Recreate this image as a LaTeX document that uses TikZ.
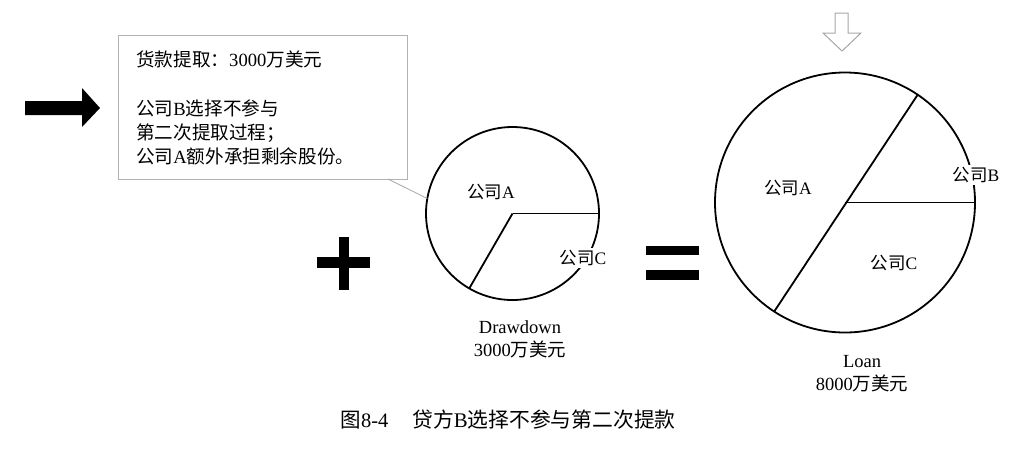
\documentclass[tikz,border=0pt]{standalone}
\usepackage{fontspec}
\setmainfont{Liberation Serif}
\newfontfamily\cjk{Noto Sans CJK SC}
\usepackage{tikz}
\usetikzlibrary{positioning}
\newcommand{\gs}{{\cjk 公司}}
\newcommand{\wmy}{{\cjk 万美元}}

\begin{document}
\begin{tikzpicture}[x=1pt,y=-1pt,
        pie/.style={circle,draw,line width=1.8pt,inner sep=0,outer sep=0},
        slice/.style={line width=1.8pt},
        lbl/.style={font=\fontsize{17.5}{21}\selectfont,inner sep=2pt},
        cut/.style={lbl,fill=white},
        bar/.style={fill=black}]
            \useasboundingbox (0,0) rectangle (1030,448);
            % arrows and signs
            \fill (25,101) -- (82,101) -- (82,88) -- (100,108) -- (82,127) -- (82,115) -- (25,115) -- cycle;
            \draw[gray!70,line width=1pt] (835,13) -- (848,13) -- (848,33) -- (861,33) -- (842,51) -- (823,33) -- (835,33) -- cycle;
            \fill[bar] (339,237) rectangle (349,290);
            \fill[bar] (317,257) rectangle (370,268);
            \fill[bar] (646,246) rectangle (699,255);
            \fill[bar] (646,270) rectangle (699,280);
            % note box
            \node[draw=gray!60,line width=1pt,minimum width=289pt,minimum height=144pt,inner sep=0,outer sep=0] (note) at (262.5,107) {};
            \node[anchor=west,align=left,inner sep=0,font=\fontsize{18.6}{24}\selectfont] (notetext) at (136,107.5)
                {{\cjk 货款提取：}3000\wmy\\[25pt]\gs B{\cjk 选择不参与}\\{\cjk 第二次提取过程；}\\\gs A{\cjk 额外承担剩余股份。}};
            % drawdown pie
            \node[pie,minimum size=173pt] (draw) at (512.5,213.5) {};
            \draw[slice] (draw.center) -- (draw.0);
            \draw[slice] (draw.center) -- (draw.240);
            \coordinate (tail) at (388,179);
            \draw[gray!70,line width=0.8pt] (tail) -- (draw.170);
            \node[lbl] (drawA) at (491,192) {\gs A};
            \node[cut] (drawC) at (583,258) {\gs C};
            \node[align=center,font=\fontsize{18.5}{23}\selectfont] (drawcap) at (520,339.5) {Drawdown\\3000\wmy};
            % loan pie
            \node[pie,minimum size=260pt] (loan) at (845,202.5) {};
            \draw[slice] (loan.center) -- (loan.0);
            \draw[slice] (loan.56) -- (loan.237);
            \node[lbl] (loanA) at (788,188) {\gs A};
            \node[cut] (loanB) at (976,175) {\gs B};
            \node[lbl] (loanC) at (894,263) {\gs C};
            \node[align=center,font=\fontsize{18.5}{23}\selectfont] (loancap) at (862,373.5) {Loan\\8000\wmy};
            % caption
            \node[font=\fontsize{20.5}{24}\selectfont] (fig) at (364.5,420) {{\cjk 图}8-4};
            \node[anchor=west,inner sep=0,font=\fontsize{20.8}{24}\selectfont] (title) at (412,420) {{\cjk 贷方}B{\cjk 选择不参与第二次提款}};
        \end{tikzpicture}
\end{document}
